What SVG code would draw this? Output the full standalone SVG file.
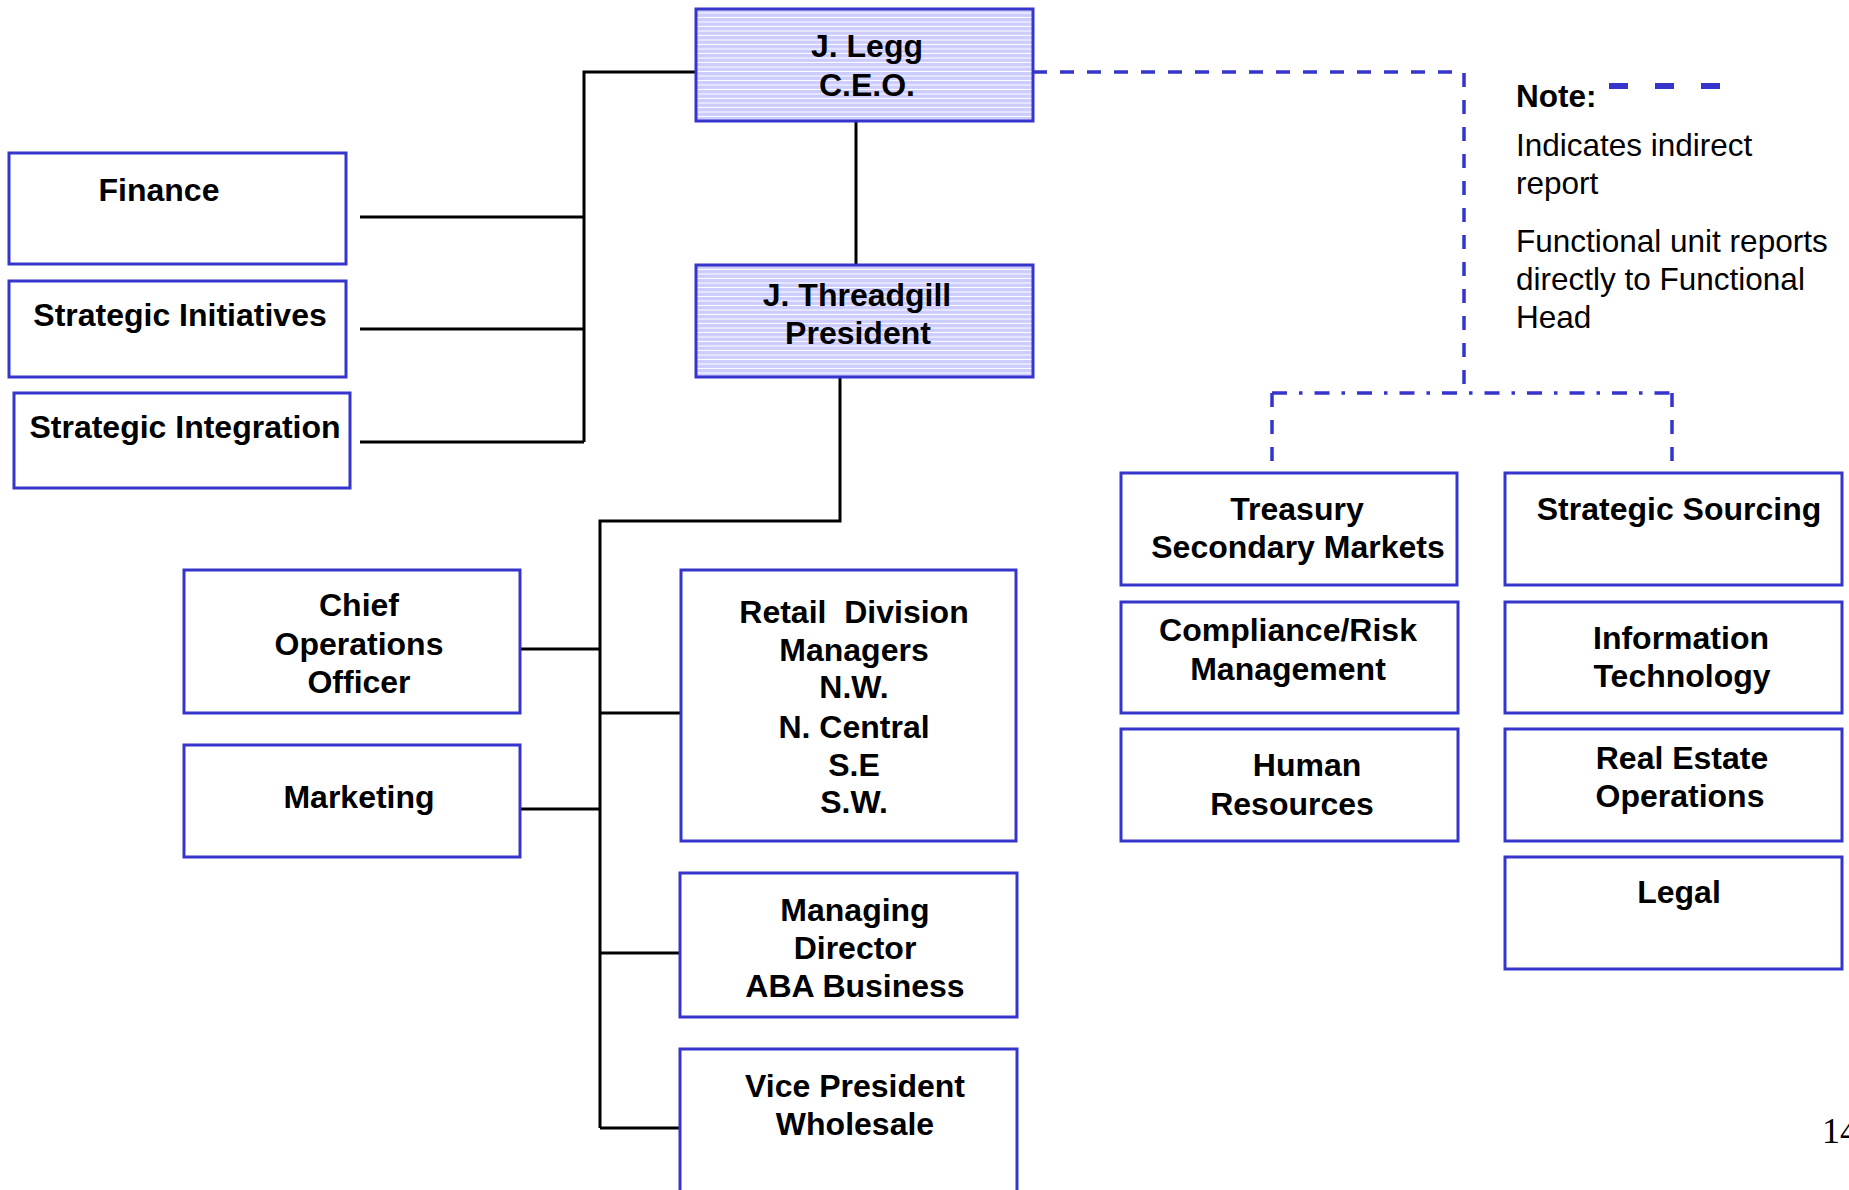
<svg xmlns="http://www.w3.org/2000/svg" width="1849" height="1190" viewBox="0 0 1849 1190">
<style>
.box{fill:#ffffff;stroke:#3535cc;stroke-width:3}
.hd{fill:url(#stripes);stroke:#3535cc;stroke-width:3}
.t{font-family:"Liberation Sans",Arial,sans-serif;font-weight:bold;font-size:32px;fill:#000;text-anchor:middle}
.n{font-family:"Liberation Sans",Arial,sans-serif;font-size:31.5px;fill:#000}
.nb{font-family:"Liberation Sans",Arial,sans-serif;font-weight:bold;font-size:31.5px;fill:#000}
.solid{fill:none;stroke:#000;stroke-width:3;stroke-linejoin:miter}
.dash{fill:none;stroke:#3535cc;stroke-width:3.5;stroke-dasharray:14 13}
.dashdot{fill:none;stroke:#3535cc;stroke-width:3.5;stroke-dasharray:15 12 3.5 12}
</style>
<defs>
<pattern id="stripes" patternUnits="userSpaceOnUse" x="0" y="0" width="10" height="4.5">
<rect width="10" height="4.5" fill="#ccccff"/>
<rect y="3.5" width="10" height="1" fill="#ffffff"/>
</pattern>
</defs>
<rect width="1849" height="1190" fill="#ffffff"/>
<g id="connectors">
<path class="solid" d="M696 72 H584 V442"/>
<path class="solid" d="M360 217 H584"/>
<path class="solid" d="M360 329 H584"/>
<path class="solid" d="M360 442 H584"/>
<path class="solid" d="M856 121 V265"/>
<path class="solid" d="M840 377 V521 H600 V1128"/>
<path class="solid" d="M520 649 H600"/>
<path class="solid" d="M520 809 H600"/>
<path class="solid" d="M600 713 H681"/>
<path class="solid" d="M600 953 H680"/>
<path class="solid" d="M600 1128 H680"/>
<path class="dash" d="M1033 72 H1464 V393"/>
<path class="dashdot" d="M1272 393 H1672"/>
<path class="dash" d="M1272 393 V462"/>
<path class="dash" d="M1672 393 V462"/>
</g>
<g id="ceo">
<rect class="hd" x="696" y="9" width="337" height="112"/>
<text class="t" x="867" y="57">J. Legg</text>
<text class="t" x="867" y="96">C.E.O.</text>
</g>
<g id="president">
<rect class="hd" x="696" y="265" width="337" height="112"/>
<text class="t" x="857" y="306">J. Threadgill</text>
<text class="t" x="858" y="344">President</text>
</g>
<g id="finance">
<rect class="box" x="9" y="153" width="337" height="111"/>
<text class="t" x="159" y="201">Finance</text>
</g>
<g id="strategic-initiatives">
<rect class="box" x="9" y="281" width="337" height="96"/>
<text class="t" x="180" y="326">Strategic Initiatives</text>
</g>
<g id="strategic-integration">
<rect class="box" x="14" y="393" width="336" height="95"/>
<text class="t" x="185" y="438">Strategic Integration</text>
</g>
<g id="coo">
<rect class="box" x="184" y="570" width="336" height="143"/>
<text class="t" x="359" y="616">Chief</text>
<text class="t" x="359" y="655">Operations</text>
<text class="t" x="359" y="693">Officer</text>
</g>
<g id="marketing">
<rect class="box" x="184" y="745" width="336" height="112"/>
<text class="t" x="359" y="808">Marketing</text>
</g>
<g id="retail">
<rect class="box" x="681" y="570" width="335" height="271"/>
<text class="t" x="854" y="623" xml:space="preserve">Retail  Division</text>
<text class="t" x="854" y="661">Managers</text>
<text class="t" x="854" y="698">N.W.</text>
<text class="t" x="854" y="738">N. Central</text>
<text class="t" x="854" y="776">S.E</text>
<text class="t" x="854" y="813">S.W.</text>
</g>
<g id="managing-director">
<rect class="box" x="680" y="873" width="337" height="144"/>
<text class="t" x="855" y="921">Managing</text>
<text class="t" x="855" y="959">Director</text>
<text class="t" x="855" y="997">ABA Business</text>
</g>
<g id="vp-wholesale">
<rect class="box" x="680" y="1049" width="337" height="160"/>
<text class="t" x="855" y="1097">Vice President</text>
<text class="t" x="855" y="1135">Wholesale</text>
</g>
<g id="treasury">
<rect class="box" x="1121" y="473" width="336" height="112"/>
<text class="t" x="1297" y="520">Treasury</text>
<text class="t" x="1298" y="558">Secondary Markets</text>
</g>
<g id="strategic-sourcing">
<rect class="box" x="1505" y="473" width="337" height="112"/>
<text class="t" x="1679" y="520">Strategic Sourcing</text>
</g>
<g id="compliance">
<rect class="box" x="1121" y="602" width="337" height="111"/>
<text class="t" x="1288" y="641">Compliance/Risk</text>
<text class="t" x="1288" y="680">Management</text>
</g>
<g id="information-technology">
<rect class="box" x="1505" y="602" width="337" height="111"/>
<text class="t" x="1681" y="649">Information</text>
<text class="t" x="1682" y="687">Technology</text>
</g>
<g id="human-resources">
<rect class="box" x="1121" y="729" width="337" height="112"/>
<text class="t" x="1307" y="776">Human</text>
<text class="t" x="1292" y="815">Resources</text>
</g>
<g id="real-estate">
<rect class="box" x="1505" y="729" width="337" height="112"/>
<text class="t" x="1682" y="769">Real Estate</text>
<text class="t" x="1680" y="807">Operations</text>
</g>
<g id="legal">
<rect class="box" x="1505" y="857" width="337" height="112"/>
<text class="t" x="1679" y="903">Legal</text>
</g>
<g id="note">
<text class="nb" x="1516" y="107">Note:</text>
<path d="M1609 86 H1720" fill="none" stroke="#3535cc" stroke-width="6" stroke-dasharray="19 27"/>
<text class="n" x="1516" y="156">Indicates indirect</text>
<text class="n" x="1516" y="194">report</text>
<text class="n" x="1516" y="252">Functional unit reports</text>
<text class="n" x="1516" y="290">directly to Functional</text>
<text class="n" x="1516" y="328">Head</text>
</g>
<text x="1822" y="1143" font-family="'Liberation Serif','Times New Roman',serif" font-size="36" fill="#000">14</text>
</svg>
